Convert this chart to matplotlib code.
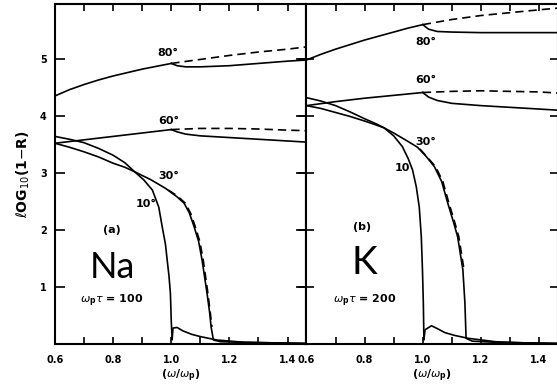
import matplotlib.pyplot as plt
from matplotlib.ticker import MultipleLocator

# ---- panel (a): Na, omega_p tau = 100 ----
na80_x = [0.6, 0.65, 0.7, 0.75, 0.8, 0.85, 0.9, 0.95, 1.0]
na80_y = [4.35, 4.46, 4.55, 4.63, 4.70, 4.76, 4.82, 4.87, 4.92]
na80_dash_x = [1.0, 1.1, 1.2, 1.3, 1.4, 1.465]
na80_dash_y = [4.92, 4.99, 5.06, 5.12, 5.17, 5.21]
na80_low_x = [1.0, 1.02, 1.05, 1.1, 1.2, 1.3, 1.4, 1.465]
na80_low_y = [4.92, 4.88, 4.86, 4.86, 4.88, 4.92, 4.96, 4.98]

na60_x = [0.6, 0.7, 0.8, 0.9, 1.0]
na60_y = [3.52, 3.58, 3.64, 3.70, 3.76]
na60_dash_x = [1.0, 1.1, 1.2, 1.3, 1.4, 1.465]
na60_dash_y = [3.76, 3.78, 3.78, 3.77, 3.75, 3.74]
na60_low_x = [1.0, 1.02, 1.05, 1.1, 1.2, 1.3, 1.4, 1.465]
na60_low_y = [3.76, 3.72, 3.68, 3.65, 3.62, 3.59, 3.56, 3.54]

na30_x = [0.6, 0.65, 0.7, 0.75, 0.8, 0.84, 0.874, 0.93, 0.98, 1.02, 1.044,
          1.062, 1.079, 1.094, 1.106, 1.123, 1.132, 1.137, 1.145, 1.17, 1.25,
          1.35, 1.465]
na30_y = [3.52, 3.45, 3.37, 3.28, 3.17, 3.10, 3.02, 2.88, 2.73, 2.58, 2.47,
          2.30, 2.05, 1.80, 1.47, 0.89, 0.55, 0.30, 0.07, 0.04, 0.03, 0.02, 0.01]
na30_dash_x = [0.99, 1.02, 1.048, 1.066, 1.083, 1.098, 1.11, 1.126, 1.14]
na30_dash_y = [2.70, 2.60, 2.47, 2.30, 2.05, 1.80, 1.47, 0.89, 0.30]

na10_x = [0.6, 0.65, 0.7, 0.75, 0.8, 0.84, 0.874, 0.905, 0.935, 0.957, 0.969,
          0.98, 0.986, 0.992, 0.997, 1.0, 1.003]
na10_y = [3.64, 3.59, 3.53, 3.43, 3.31, 3.18, 3.02, 2.88, 2.70, 2.40, 2.05,
          1.75, 1.47, 1.20, 0.89, 0.40, 0.08]
na10_tail_x = [1.003, 1.006, 1.02, 1.04, 1.07, 1.10, 1.157, 1.25, 1.35, 1.465]
na10_tail_y = [0.08, 0.28, 0.29, 0.23, 0.17, 0.13, 0.07, 0.03, 0.02, 0.01]

# ---- panel (b): K, omega_p tau = 200 ----
k80_x = [0.6, 0.65, 0.7, 0.75, 0.8, 0.85, 0.9, 0.95, 1.0]
k80_y = [4.98, 5.08, 5.17, 5.25, 5.33, 5.40, 5.47, 5.54, 5.60]
k80_dash_x = [1.0, 1.1, 1.2, 1.3, 1.4, 1.465]
k80_dash_y = [5.60, 5.69, 5.76, 5.81, 5.86, 5.89]
k80_low_x = [1.0, 1.02, 1.05, 1.1, 1.2, 1.3, 1.4, 1.465]
k80_low_y = [5.60, 5.52, 5.48, 5.47, 5.46, 5.46, 5.46, 5.46]

k60_x = [0.6, 0.7, 0.8, 0.9, 1.0]
k60_y = [4.18, 4.25, 4.31, 4.36, 4.41]
k60_dash_x = [1.0, 1.1, 1.2, 1.3, 1.4, 1.465]
k60_dash_y = [4.41, 4.43, 4.44, 4.43, 4.42, 4.40]
k60_low_x = [1.0, 1.02, 1.05, 1.1, 1.2, 1.3, 1.4, 1.465]
k60_low_y = [4.41, 4.33, 4.27, 4.22, 4.18, 4.15, 4.12, 4.10]

k30_x = [0.6, 0.65, 0.7, 0.75, 0.8, 0.84, 0.867, 0.9, 0.95, 0.982, 1.01,
         1.04, 1.065, 1.086, 1.105, 1.12, 1.138, 1.145, 1.149, 1.17, 1.25,
         1.35, 1.465]
k30_y = [4.18, 4.13, 4.06, 3.99, 3.91, 3.84, 3.79, 3.70, 3.55, 3.45, 3.30,
         3.11, 2.85, 2.47, 2.15, 1.88, 1.30, 0.72, 0.10, 0.05, 0.03, 0.02, 0.01]
k30_dash_x = [0.99, 1.015, 1.044, 1.069, 1.09, 1.109, 1.124, 1.142]
k30_dash_y = [3.42, 3.28, 3.11, 2.85, 2.47, 2.15, 1.88, 1.30]

k10_x = [0.6, 0.65, 0.7, 0.75, 0.8, 0.84, 0.867, 0.9, 0.93, 0.95, 0.965,
         0.978, 0.988, 0.995, 0.999, 1.002, 1.004]
k10_y = [4.32, 4.26, 4.18, 4.07, 3.95, 3.86, 3.79, 3.65, 3.46, 3.25, 3.05,
         2.75, 2.40, 1.88, 1.30, 0.72, 0.08]
k10_tail_x = [1.004, 1.008, 1.03, 1.05, 1.076, 1.11, 1.156, 1.25, 1.35, 1.465]
k10_tail_y = [0.08, 0.25, 0.32, 0.27, 0.20, 0.15, 0.10, 0.04, 0.02, 0.01]

xticks = [0.6, 0.8, 1.0, 1.2, 1.4]
xtick_labels = ['0.6', '0.8', '1.0', '1.2', '1.4']
yticks = [1, 2, 3, 4, 5]

LW = 1.2
fig = plt.figure(figsize=(5.57, 3.88), dpi=100)
ax_a = fig.add_axes([0.0987, 0.1134, 0.4515, 0.876])
ax_b = fig.add_axes([0.5502, 0.1134, 0.4515, 0.876])


def draw(ax, solid, dashed):
    for xs, ys in solid:
        ax.plot(xs, ys, color='black', lw=LW)
    for xs, ys in dashed:
        ax.plot(xs, ys, color='black', lw=LW, dashes=(5, 3))


def style(ax, first):
    ax.set_xlim(0.6, 1.465)
    ax.set_ylim(0, 5.96)
    ax.set_xticks(xticks)
    ax.set_xticklabels(xtick_labels, fontsize=7, fontweight='bold')
    ax.xaxis.set_minor_locator(MultipleLocator(0.1))
    ax.set_yticks(yticks)
    for s in ax.spines.values():
        s.set_linewidth(1.5)
    ax.tick_params(which='both', axis='x', direction='in', top=True,
                   length=5, width=1.2, pad=8)
    if first:
        ax.set_yticklabels([str(v) for v in yticks], fontsize=7,
                           fontweight='bold')
        ax.tick_params(axis='y', direction='in', right=True, length=7,
                       width=1.2, pad=6)
        ax.set_ylabel(r'$\ell$OG$_{10}$(1$-$R)', fontsize=10,
                      fontweight='bold', labelpad=6)
    else:
        ax.set_yticklabels([])
        ax.tick_params(axis='y', direction='inout', right=True, length=12,
                       width=1.2)
    ax.set_xlabel(r'($\omega$/$\omega_\mathbf{p}$)', fontsize=8,
                  fontweight='bold', labelpad=2)


draw(ax_a,
     [(na80_x, na80_y), (na80_low_x, na80_low_y), (na60_x, na60_y),
      (na60_low_x, na60_low_y), (na30_x, na30_y), (na10_x, na10_y),
      (na10_tail_x, na10_tail_y)],
     [(na80_dash_x, na80_dash_y), (na60_dash_x, na60_dash_y),
      (na30_dash_x, na30_dash_y)])
draw(ax_b,
     [(k80_x, k80_y), (k80_low_x, k80_low_y), (k60_x, k60_y),
      (k60_low_x, k60_low_y), (k30_x, k30_y), (k10_x, k10_y),
      (k10_tail_x, k10_tail_y)],
     [(k80_dash_x, k80_dash_y), (k60_dash_x, k60_dash_y),
      (k30_dash_x, k30_dash_y)])
style(ax_a, True)
style(ax_b, False)

# curve labels
lab = dict(fontsize=8, fontweight='bold', ha='center', va='center')
ax_a.text(0.99, 5.1, '80°', **lab)
ax_a.text(0.99, 3.91, '60°', **lab)
ax_a.text(0.99, 2.95, '30°', **lab)
ax_a.text(0.915, 2.46, '10°', **lab)
ax_b.text(1.01, 5.3, '80°', **lab)
ax_b.text(1.01, 4.63, '60°', **lab)
ax_b.text(1.01, 3.55, '30°', **lab)
ax_b.text(0.93, 3.08, '10', **lab)

# panel annotations
ax_a.text(0.796, 2.0, '(a)', fontsize=8, fontweight='bold', ha='center', va='center')
ax_a.text(0.796, 1.35, 'Na', fontsize=26, family='Lato', fontweight='normal',
          ha='center', va='center')
ax_a.text(0.796, 0.75, r'$\omega_\mathbf{p}\tau$ = 100', fontsize=8,
          fontweight='bold', ha='center', va='center')
ax_b.text(0.79, 2.05, '(b)', fontsize=8, fontweight='bold', ha='center', va='center')
ax_b.text(0.80, 1.42, 'K', fontsize=28, family='Lato', fontweight='normal',
          ha='center', va='center')
ax_b.text(0.80, 0.75, r'$\omega_\mathbf{p}\tau$ = 200', fontsize=8,
          fontweight='bold', ha='center', va='center')

fig.savefig('out.png', dpi=100)
